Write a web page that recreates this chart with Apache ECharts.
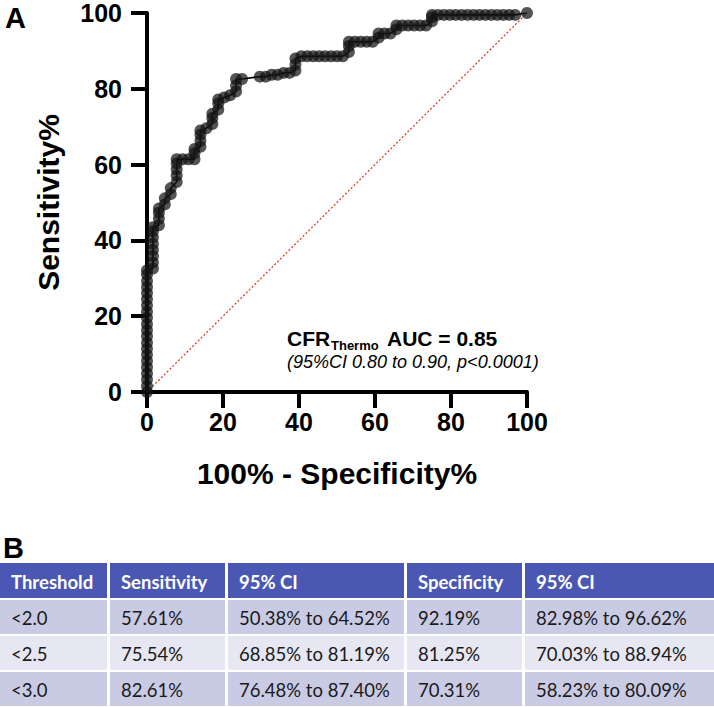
<!DOCTYPE html>
<html>
<head>
<meta charset="utf-8">
<script src="https://cdn.jsdelivr.net/npm/echarts@6/dist/echarts.min.js"></script>
<style>
html,body{margin:0;padding:0;background:#fff;}
#chart{width:714px;height:707px;}
</style>
</head>
<body>
<div id="chart"></div>
<script>
// ROC curve points (100% - Specificity%, Sensitivity%)
const fpr = [
  0,0,0,0,0,0,0,0,0,0,0,0,0,0,0,0,0,0,0,0,0,
  1.56,1.56,1.56,1.56,1.56,1.56,1.56,1.56,
  3.13,3.13,3.13,3.13,
  4.69,4.69,
  6.25,6.25,
  7.81,7.81,7.81,7.81,7.81,
  9.38,10.94,12.5,
  12.5,12.5,
  14.06,14.06,14.06,14.06,
  15.63,
  17.19,17.19,17.19,
  18.75,18.75,18.75,
  20.31,
  21.88,
  23.44,23.44,23.44,
  25.0,
  29.69,31.25,32.81,34.38,35.94,37.5,
  39.06,39.06,39.06,
  40.63,42.19,43.75,45.31,46.88,48.44,50.0,51.56,
  53.13,53.13,53.13,
  54.69,56.25,57.81,59.38,
  60.94,60.94,
  62.5,64.06,
  65.63,65.63,
  67.19,68.75,70.31,71.88,73.44,
  75.0,75.0,75.0,
  76.56,78.13,79.69,81.25,82.81,84.38,85.94,87.5,89.06,90.63,92.19,93.75,95.31,96.88,
  100
];
const tpr = [
  0,1.6,3.3,4.9,6.5,8.2,9.8,11.4,13.0,14.7,16.3,17.9,19.6,21.2,22.8,24.5,26.1,27.7,29.3,31.0,32.1,
  32.6,34.2,35.9,37.5,39.1,40.8,42.4,43.5,
  44.0,45.7,47.3,48.4,
  49.5,51.1,
  52.2,53.8,
  55.4,57.1,58.7,60.3,61.4,
  61.4,61.4,61.4,
  63.0,64.1,
  64.7,66.3,67.9,69.0,
  69.6,
  70.7,72.3,73.4,
  74.5,76.1,77.2,
  77.7,
  78.3,
  79.3,80.9,82.6,
  82.6,
  83.2,83.2,83.7,83.7,84.2,84.2,
  84.8,86.4,88.0,
  88.6,88.6,88.6,88.6,88.6,88.6,88.6,88.6,
  89.7,91.3,92.4,
  92.4,92.4,92.4,92.4,
  93.5,94.6,
  94.6,94.6,
  95.7,96.7,
  96.7,96.7,96.7,96.7,96.7,
  97.8,98.9,99.5,
  99.5,99.5,99.5,99.5,99.5,99.5,99.5,99.5,99.5,99.5,99.5,99.5,99.5,99.5,
  100
];
const refLineX = [0, 100];
const refLineY = [0, 100];

const aucLabel = {main: 'CFR', sub: 'Thermo', rest: 'AUC = 0.85'};
const ciLabel = '(95%CI 0.80 to 0.90, p<0.0001)';

// Table B
const tableHeader = ['Threshold', 'Sensitivity', '95% CI', 'Specificity', '95% CI'];
const thresholds = ['<2.0', '<2.5', '<3.0'];
const sensitivity = ['57.61%', '75.54%', '82.61%'];
const sensCI = ['50.38% to 64.52%', '68.85% to 81.19%', '76.48% to 87.40%'];
const specificity = ['92.19%', '81.25%', '70.31%'];
const specCI = ['82.98% to 96.62%', '70.03% to 88.94%', '58.23% to 80.09%'];

const chart = echarts.init(document.getElementById('chart'), null, {renderer: 'svg'});
const FONT = '"Liberation Sans", Arial, Helvetica, sans-serif';
const TFONT = 'Lato, "Open Sans", sans-serif';

// table layout
const colX = [0, 110, 228, 407, 525];
const colW = [107, 115, 176, 115, 189];
const rowY = [563, 600, 636, 672];
const rowH = [35, 34, 34, 34];
const rowFill = ['#4a58b4', '#c9cbe4', '#e6e7f2', '#c9cbe4'];
const tableRows = [tableHeader];
for (let i = 0; i < thresholds.length; i++) {
  tableRows.push([thresholds[i], sensitivity[i], sensCI[i], specificity[i], specCI[i]]);
}
const tableGraphics = [];
tableRows.forEach((row, r) => {
  row.forEach((txt, c) => {
    tableGraphics.push({
      type: 'rect',
      shape: {x: colX[c], y: rowY[r], width: colW[c], height: rowH[r]},
      style: {fill: rowFill[r]},
      silent: true
    });
    tableGraphics.push({
      type: 'text',
      style: {
        x: colX[c] + 11, y: rowY[r] + rowH[r] / 2 + 1,
        text: txt,
        fill: r === 0 ? '#ffffff' : '#1a1a1a',
        font: (r === 0 ? 'bold ' : '') + '18.5px ' + TFONT,
        textAlign: 'left', textVerticalAlign: 'middle'
      },
      silent: true
    });
  });
});

const option = {
  backgroundColor: '#ffffff',
  animation: false,
  grid: {left: 147, right: 187, top: 13, bottom: 315, containLabel: false},
  xAxis: {
    type: 'value', min: 0, max: 100, interval: 20,
    name: '100% - Specificity%', nameLocation: 'middle', nameGap: 66,
    nameTextStyle: {fontFamily: FONT, fontWeight: 'bold', fontSize: 30, color: '#000'},
    axisLine: {show: true, onZero: false, lineStyle: {color: '#000', width: 4}},
    axisTick: {show: true, length: 16, lineStyle: {color: '#000', width: 4}},
    axisLabel: {show: true, margin: 17, fontFamily: FONT, fontWeight: 'bold', fontSize: 25, color: '#000'},
    splitLine: {show: false}
  },
  yAxis: {
    type: 'value', min: 0, max: 100, interval: 20,
    name: 'Sensitivity%', nameLocation: 'middle', nameGap: 84,
    nameTextStyle: {fontFamily: FONT, fontWeight: 'bold', fontSize: 30, color: '#000'},
    axisLine: {show: true, onZero: false, lineStyle: {color: '#000', width: 4}},
    axisTick: {show: true, length: 16, lineStyle: {color: '#000', width: 4}},
    axisLabel: {show: true, margin: 25, fontFamily: FONT, fontWeight: 'bold', fontSize: 25, color: '#000'},
    splitLine: {show: false}
  },
  series: [
    {
      type: 'line',
      data: refLineX.map((x, i) => [x, refLineY[i]]),
      showSymbol: false, symbol: 'none',
      lineStyle: {color: '#e0301e', width: 1.2, type: [2, 2]},
      z: 1, silent: true
    },
    {
      type: 'line',
      data: fpr.map((x, i) => [x, tpr[i]]),
      symbol: 'circle', symbolSize: 12, showAllSymbol: true,
      lineStyle: {color: '#000', width: 1.6},
      itemStyle: {color: 'rgba(20,20,20,0.72)', borderWidth: 0},
      z: 3, silent: true
    }
  ],
  graphic: [
    {type: 'text', style: {x: 5, y: 3, text: 'A', font: 'bold 29px ' + FONT, fill: '#000', textVerticalAlign: 'top'}},
    {type: 'text', style: {x: 3, y: 533, text: 'B', font: 'bold 29px ' + FONT, fill: '#000', textVerticalAlign: 'top'}},
    {type: 'text', style: {x: 287, y: 338, text: aucLabel.main, font: 'bold 21px ' + FONT, fill: '#000', textVerticalAlign: 'middle'}},
    {type: 'text', style: {x: 331, y: 345, text: aucLabel.sub, font: 'bold 13px ' + FONT, fill: '#000', textVerticalAlign: 'middle'}},
    {type: 'text', style: {x: 387, y: 338, text: aucLabel.rest, font: 'bold 21px ' + FONT, fill: '#000', textVerticalAlign: 'middle'}},
    {type: 'text', style: {x: 287, y: 362, text: ciLabel, font: 'italic 18px ' + FONT, fill: '#000', textVerticalAlign: 'middle'}}
  ].concat(tableGraphics)
};
chart.setOption(option);
</script>
</body>
</html>
